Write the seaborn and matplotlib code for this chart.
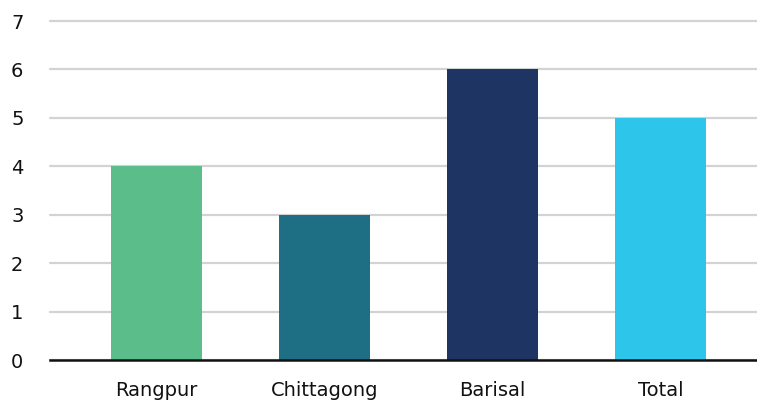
import matplotlib
matplotlib.use("Agg")
import matplotlib.pyplot as plt
import seaborn as sns
import pandas as pd

regions = ["Rangpur", "Chittagong", "Barisal", "Total"]
values = [4, 3, 6, 5]
bar_colors = ["#5BBD8A", "#1F6F84", "#1E3563", "#2DC5EA"]
y_ticks = [0, 1, 2, 3, 4, 5, 6, 7]

sns.set_theme(style="white")
plt.rcParams["font.family"] = ["DejaVu Sans"]

df = pd.DataFrame({"region": regions, "value": values})

fig = plt.figure(figsize=(7.57, 4.05), dpi=100)
ax = fig.add_axes([50 / 757, 45 / 405, 707 / 757, 339 / 405])

sns.barplot(data=df, x="region", y="value", hue="region", palette=bar_colors,
            legend=False, width=0.54, saturation=1, linewidth=0, ax=ax, zorder=3)

ax.set_ylim(0, 7)
ax.set_xlim(-0.634, 3.574)
ax.set_yticks(y_ticks)
ax.yaxis.grid(True, color="#D3D3D3", linewidth=1.6, zorder=0)
for gl in ax.get_ygridlines():
    gl.set_clip_on(False)
ax.set_axisbelow(True)

for side in ["top", "right", "left"]:
    ax.spines[side].set_visible(False)
ax.spines["bottom"].set_color("#111111")
ax.spines["bottom"].set_linewidth(1.8)
ax.spines["bottom"].set_zorder(4)

ax.set_xlabel("")
ax.set_ylabel("")
ax.tick_params(axis="both", length=0, labelsize=14, labelcolor="#111111")
ax.tick_params(axis="x", pad=15)
ax.tick_params(axis="y", pad=28)
for lbl in ax.get_yticklabels():
    lbl.set_horizontalalignment("left")

fig.savefig("out.png", dpi=100)
